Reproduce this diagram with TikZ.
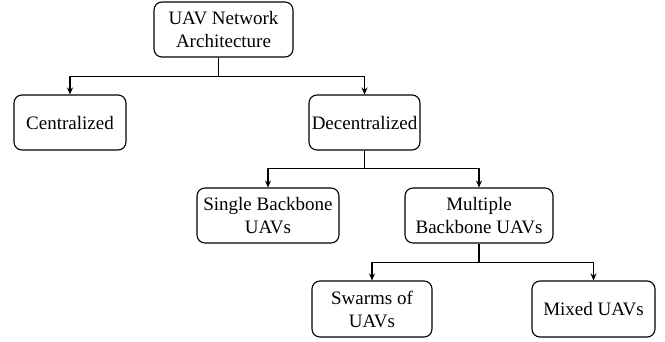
\documentclass[tikz,border=0pt]{standalone}
\usepackage{fontspec}
\setmainfont{Liberation Serif}
\usetikzlibrary{calc, positioning, arrows.meta}

\begin{document}
\begin{tikzpicture}[
        x=1pt, y=-1pt,
        box/.style={draw, rounded corners=8pt, line width=1.1pt, minimum height=55pt, inner sep=2pt, align=center, font=\fontsize{19}{23}\selectfont},
        link/.style={line width=1.1pt, -{Stealth[length=7pt, width=6pt]}},
        stem/.style={line width=1.1pt}
    ]
        \useasboundingbox (0,0) rectangle (665,341);

        \node[box, minimum width=139pt] (arch) at (223.5,29.5) {UAV Network\\Architecture};
        \node[box, minimum width=112pt] (cent) at (70,122.5) {Centralized};
        \node[box, minimum width=111pt] (decent) at (364.5,122.5) {Decentralized};
        \node[box, minimum width=142pt] (single) at (268,215.5) {Single Backbone\\UAVs};
        \node[box, minimum width=148pt] (multi) at (479,215.5) {Multiple\\Backbone UAVs};
        \node[box, minimum width=120pt, minimum height=56pt] (swarm) at (372,309) {Swarms of\\UAVs};
        \node[box, minimum width=123pt, minimum height=56pt] (mixed) at (593.5,309) {Mixed UAVs};

        \coordinate (j1) at ($(arch.south)+(-5,19)$);
        \coordinate (j2) at ($(decent.south)+(0,18)$);
        \coordinate (j3) at ($(multi.south)+(0,19)$);

        \draw[stem] ([xshift=-5pt]arch.south) -- (j1);
        \draw[link] (j1) -| (cent.north);
        \draw[link] (j1) -| (decent.north);

        \draw[stem] (decent.south) -- (j2);
        \draw[link] (j2) -| (single.north);
        \draw[link] (j2) -| (multi.north);

        \draw[stem] (multi.south) -- (j3);
        \draw[link] (j3) -| (swarm.north);
        \draw[link] (j3) -| (mixed.north);
    \end{tikzpicture}
\end{document}
